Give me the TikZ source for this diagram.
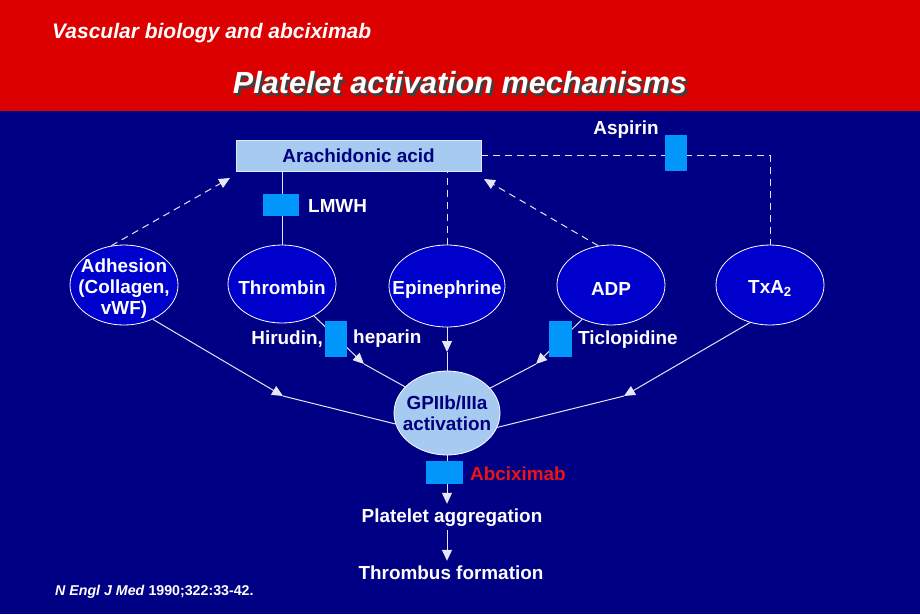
\documentclass[tikz,border=0pt]{standalone}
\usepackage{fontspec}
\setmainfont{Liberation Sans}
\usetikzlibrary{positioning,shapes.geometric,arrows.meta}
\definecolor{bgblue}{RGB}{0,0,132}
\definecolor{ellblue}{RGB}{0,0,205}
\definecolor{paleblue}{RGB}{166,202,240}
\definecolor{drugblue}{RGB}{0,150,250}
\definecolor{hdred}{RGB}{221,0,0}
\definecolor{txtnavy}{RGB}{0,0,128}
\definecolor{abcred}{RGB}{235,20,20}

\begin{document}
\begin{tikzpicture}[x=1pt, y=-1pt,
		txt/.style={text=white, font=\bfseries\fontsize{18.9}{21}\selectfont, inner sep=0pt},
		agent/.style={ellipse, draw=white, line width=0.8pt, fill=ellblue, minimum width=108pt, minimum height=80pt, inner sep=0pt},
		caption/.style={label={[txt, align=center, yshift=-3.5pt]center:#1}},
		block/.style={fill=drugblue, inner sep=0pt},
		link/.style={draw=white!90!bgblue, line width=1pt},
		dashlink/.style={link, dash pattern=on 7pt off 5pt},
		arr/.style={-{Triangle[width=10pt,length=11pt]}},
		stage/.style={txt, text height=14pt, text depth=4pt, inner sep=4pt}]
		\fill[bgblue] (0,0) rectangle (920,614);
		\fill[hdred] (0,0) rectangle (920,111);
		\node[txt, anchor=west, font=\bfseries\itshape\fontsize{21}{24}\selectfont] (sub) at (52,33) {Vascular biology and abciximab};
		\node[txt, text=black!75, font=\bfseries\itshape\fontsize{30.6}{34}\selectfont] (shadow) at (462.5,85.5) {Platelet activation mechanisms};
		\node[txt, font=\bfseries\itshape\fontsize{30.6}{34}\selectfont] (title) at (460,83) {Platelet activation mechanisms};

		\node[txt, fill=paleblue, draw=white!60!paleblue, line width=0.8pt, minimum width=245pt, minimum height=31pt, text=txtnavy] (AA) at (358.5,155.5) {Arachidonic acid};

		\node[agent, caption={Adhesion\\(Collagen,\\vWF)}] (Adh) at (124,285) {};
		\node[agent, minimum height=78pt, caption=Thrombin] (Thr) at (282,284) {};
		\node[agent, minimum width=116pt, minimum height=82pt, caption=Epinephrine] (Epi) at (447,286) {};
		\node[agent, caption=ADP] (ADP) at (611,285) {};
		\node[agent, caption=TxA\textsubscript{2}] (Tx) at (770,285) {};
		\node[agent, fill=paleblue, minimum width=106pt, minimum height=84pt, label={[txt, text=txtnavy, align=center]center:GPIIb/IIIa\\activation}] (GP) at (447,413) {};

		\node[stage] (PA) at (452,517) {Platelet aggregation};
		\node[stage] (TF) at (451,574) {Thrombus formation};

		\coordinate (adhtip) at (230,178);
		\coordinate (adptip) at (484,179);
		\coordinate (adhkink) at (283,396);
		\coordinate (thrkink) at (364,364);
		\coordinate (epikink) at (447,352);
		\coordinate (adpkink) at (536,364);
		\coordinate (txkink) at (624,396);

		\draw[link] (AA.south -| Thr.north) -- (Thr.north);
		\draw[dashlink] (Epi.north) -- (Epi.north |- AA.south);
		\draw[dashlink, arr] (Adh.108) -- (adhtip);
		\draw[dashlink, arr] (ADP.108) -- (adptip);
		\draw[dashlink] (AA.east) -| (Tx.north);

		\draw[link, arr] (Adh.-50) -- (adhkink);
		\draw[link] (adhkink) -- (GP.192);
		\draw[link, arr] (Thr.-45) -- (thrkink);
		\draw[link] (thrkink) -- (GP.148);
		\draw[link, arr] (Epi.south) -- (epikink);
		\draw[link] (epikink) -- (GP.north);
		\draw[link, arr] (ADP.-130) -- (adpkink);
		\draw[link] (adpkink) -- (GP.30);
		\draw[link, arr] (Tx.-118) -- (txkink);
		\draw[link] (txkink) -- (GP.-16);

		\draw[link, arr] (GP.south) -- (GP.south |- PA.north);
		\draw[link, arr] (PA.south -| GP.south) -- (TF.north -| GP.south);

		\node[block, minimum width=36pt, minimum height=22pt] (lmwhblk) at (281,205) {};
		\node[txt, anchor=west] (lmwh) at (308,206) {LMWH};
		\node[block, minimum width=22pt, minimum height=36pt] (asablk) at (676,153) {};
		\node[txt] (asa) at (626,130) {Aspirin};
		\node[block, minimum width=22pt, minimum height=36pt] (hirblk) at (336,339) {};
		\node[txt, anchor=east] (hir) at (323,339) {Hirudin,};
		\node[txt, anchor=west] (hep) at (353,339) {heparin};
		\node[block, minimum width=23pt, minimum height=36pt] (ticblk) at (560.5,339) {};
		\node[txt, anchor=west] (tic) at (578,340) {Ticlopidine};
		\node[block, minimum width=37pt, minimum height=23pt] (abcblk) at (444.5,472.5) {};
		\node[txt, anchor=west, text=abcred] (abc) at (470,474) {Abciximab};

		\node[txt, anchor=west, font=\bfseries\fontsize{14.2}{16}\selectfont] (ref) at (55,592) {\textit{N Engl J Med} 1990;322:33-42.};
	\end{tikzpicture}
\end{document}
